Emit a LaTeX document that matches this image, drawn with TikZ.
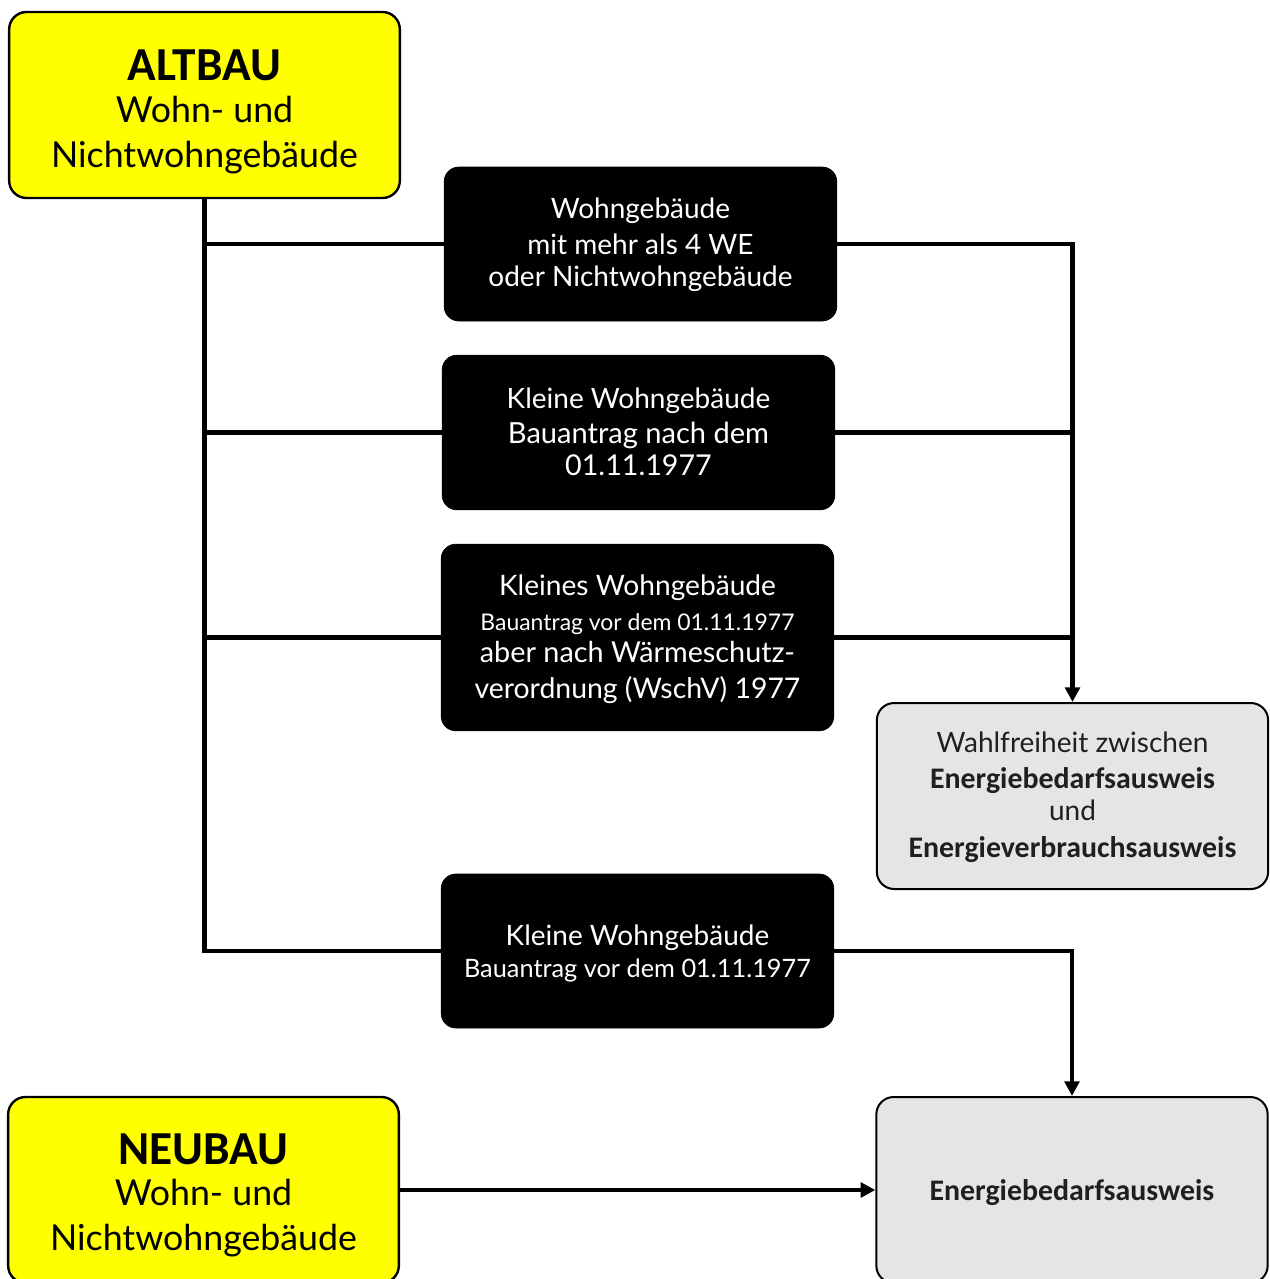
\documentclass[tikz,border=0pt]{standalone}
\usepackage{fontspec}
\setmainfont{Lato}
\newfontfamily\carl{Carlito}
\usetikzlibrary{arrows.meta}
\definecolor{yel}{RGB}{255,255,0}
\definecolor{lgray}{RGB}{229,229,229}
\newcommand{\rg}[1]{\fontsize{#1}{#1}\selectfont}
\newcommand{\bd}[1]{\carl\bfseries\fontsize{#1}{#1}\selectfont}
\begin{document}
\begin{tikzpicture}[x=0.75pt,y=-0.75pt,
  yellowbox/.style={draw=black,line width=1.8pt,fill=yel,rounded corners=13pt,
    minimum width=293pt,minimum height=139.5pt,inner sep=0pt},
  blackbox/.style={draw=black,line width=0.5pt,fill=black,rounded corners=11pt,
    minimum width=294.5pt,inner sep=0pt},
  graybox/.style={draw=black,line width=1.5pt,fill=lgray,rounded corners=13pt,
    minimum width=293.5pt,minimum height=139.5pt,inner sep=0pt},
  lbl/.style={anchor=base,inner sep=0pt},
  wl/.style={lbl,text=white},
  gl/.style={lbl,text=black!88},
  conn/.style={line width=3.2pt,draw=black},
  arr/.style={conn,-{Triangle[length=11pt,width=11pt]}},
]
\useasboundingbox (0,0) rectangle (1270,1279);

% boxes
\node[yellowbox] (alt) at (204.5,105) {};
\node[blackbox,minimum height=115.5pt] (b1) at (640.5,244) {};
\node[blackbox,minimum height=116pt] (b2) at (638.5,432.5) {};
\node[blackbox,minimum height=140pt] (b3) at (637.5,637.5) {};
\node[blackbox,minimum height=115.5pt] (b4) at (637.5,951) {};
\node[graybox] (w) at (1072.5,796) {};
\node[yellowbox] (neu) at (203.5,1190) {};
\node[graybox] (e) at (1072,1190) {};

% texts
\node[lbl] (alt1) at (204.5,80) {\bd{35.5pt}ALTBAU};
\node[lbl] (alt2) at (204.5,122) {\rg{26.8pt}Wohn- und};
\node[lbl] (alt3) at (204.5,167) {\rg{26.8pt}Nichtwohngebäude};

\node[wl] (b1a) at (640.5,218) {\rg{21pt}Wohngebäude};
\node[wl] (b1b) at (640.5,254) {\rg{21pt}mit mehr als 4 WE};
\node[wl] (b1c) at (640.5,286) {\rg{21pt}oder Nichtwohngebäude};

\node[wl] (b2a) at (638.5,408) {\rg{21pt}Kleine Wohngebäude};
\node[wl] (b2b) at (638.5,443) {\rg{21.8pt}Bauantrag nach dem};
\node[wl] (b2c) at (638.5,475) {\rg{21.5pt}01.11.1977};

\node[wl] (b3a) at (637.5,595) {\rg{21.1pt}Kleines Wohngebäude};
\node[wl] (b3b) at (637.5,630) {\rg{17.2pt}Bauantrag vor dem 01.11.1977};
\node[wl] (b3c) at (637.5,662) {\rg{21.6pt}aber nach Wärmeschutz-};
\node[wl] (b3d) at (637.5,698) {\rg{21.3pt}verordnung (WschV) 1977};

\node[wl] (b4a) at (637.5,945) {\rg{21pt}Kleine Wohngebäude};
\node[wl] (b4b) at (637.5,977) {\rg{19pt}Bauantrag vor dem 01.11.1977};

\node[gl] (w1) at (1072.5,752) {\rg{21pt}Wahlfreiheit zwischen};
\node[gl] (w2) at (1072.5,788) {\bd{22.4pt}Energiebedarfsausweis};
\node[gl] (w3) at (1072.5,820) {\rg{21pt}und};
\node[gl] (w4) at (1072.5,857) {\bd{22.4pt}Energieverbrauchsausweis};

\node[lbl] (neu1) at (203.5,1164) {\bd{35.5pt}NEUBAU};
\node[lbl] (neu2) at (203.5,1205) {\rg{26.8pt}Wohn- und};
\node[lbl] (neu3) at (203.5,1250) {\rg{26.8pt}Nichtwohngebäude};

\node[gl] (e1) at (1072,1200) {\bd{22.4pt}Energiebedarfsausweis};

% trunk and branches
\draw[conn] (alt.south) -- (alt.south |- b4.west) -- (b4.west);
\draw[conn] (alt.south |- b1.west) -- (b1.west);
\draw[conn] (alt.south |- b2.west) -- (b2.west);
\draw[conn] (alt.south |- b3.west) -- (b3.west);

% right side
\draw[arr] (b1.east) -| (w.north);
\draw[conn] (b2.east) -- (b2.east -| w.north);
\draw[conn] (b3.east) -- (b3.east -| w.north);
\draw[arr] (b4.east) -| (e.north);
\draw[arr] (neu.east) -- (e.west);
\end{tikzpicture}
\end{document}
